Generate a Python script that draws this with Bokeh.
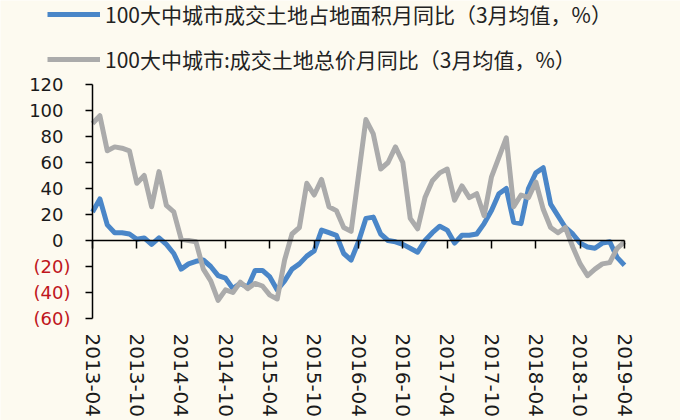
from bokeh.plotting import figure
from bokeh.models import Legend, LegendItem, LinearAxis, FixedTicker, Range1d
from bokeh.core.properties import value
from bokeh.embed import file_html
from bokeh.resources import INLINE

# Monthly data, 2013-04 .. 2019-04 (73 months)
area_yoy = [22, 32, 12, 6, 6, 5, 1, 2, -3, 2, -3, -10,
            -22, -18, -16, -15, -20, -27, -29, -37, -33, -36, -23, -23,
            -28, -38, -31, -22, -18, -12, -8, 8, 6, 4, -10, -15,
            -1, 17, 18, 5, 0, -1, -3, -6, -9, 0, 6, 11,
            8, -2, 4, 4, 5, 13, 23, 36, 40, 14, 13, 40,
            52, 56, 28, 19, 10, 5, -2, -5, -6, -2, -1, -13,
            -19]
price_yoy = [90, 96, 69, 72, 71, 69, 44, 50, 26, 53, 27, 22,
             1, 0, -1, -22, -31, -46, -38, -40, -32, -37, -33, -35,
             -42, -45, -15, 5, 10, 44, 35, 47, 26, 23, 10, 7,
             50, 93, 82, 55, 60, 72, 60, 17, 9, 33, 46, 52,
             55, 31, 42, 33, 36, 19, 49, 64, 79, 26, 35, 33,
             45, 24, 10, 6, 10, -5, -18, -27, -22, -18, -17, -6,
             -1]
month_idx = list(range(len(area_yoy)))
x_tick_pos = [0, 6, 12, 18, 24, 30, 36, 42, 48, 54, 60, 66, 72]
x_tick_labels = ["2013-04", "2013-10", "2014-04", "2014-10", "2015-04", "2015-10",
                 "2016-04", "2016-10", "2017-04", "2017-10", "2018-04", "2018-10", "2019-04"]
y_ticks = [-60, -40, -20, 0, 20, 40, 60, 80, 100, 120]
label_area = "100大中城市成交土地占地面积月同比（3月均值，%）"
label_price = "100大中城市:成交土地总价月同比（3月均值，%）"

BG = "#FDFAF0"
BLUE = "#4A86C8"
GRAY = "#ABABAB"
RED = "#C0161C"
TXT = "#1A1A1A"
TICK_FONT = "DejaVu Sans"

# layout targets (pixels): data area x 92..624, y 84..318; the frame covers the
# whole canvas so that no text gets clipped
W, H = 680, 420
AX_L, AX_R, AX_T, AX_B = 92, 624, 84, 318
x0, x1 = month_idx[0], month_idx[-1]
y0, y1 = y_ticks[0], y_ticks[-1]
px_per_month = (AX_R - AX_L) / (x1 - x0)
px_per_unit = (AX_B - AX_T) / (y1 - y0)
x_start = x0 - AX_L / px_per_month
x_end = x1 + (W - AX_R) / px_per_month
y_end = y1 + AX_T / px_per_unit
y_start = y0 - (H - AX_B) / px_per_unit

p = figure(width=W, height=H, output_backend="svg", toolbar_location=None,
           x_range=Range1d(x_start, x_end), y_range=Range1d(y_start, y_end),
           x_axis_location=None, y_axis_location=None,
           min_border_left=0, min_border_right=0, min_border_top=0, min_border_bottom=0,
           background_fill_color=BG, border_fill_color=BG, outline_line_color=None)
p.grid.visible = False

def blank(ticks):
    return {t: "" for t in ticks}

# category labels under the data area
xa = LinearAxis(fixed_location=y0, bounds=(x0, x1), ticker=FixedTicker(ticks=x_tick_pos),
                major_label_overrides={t: l for t, l in zip(x_tick_pos, x_tick_labels)},
                axis_line_color=None, major_tick_line_color=None, minor_tick_line_color=None,
                major_tick_out=0, major_tick_in=0, major_label_standoff=15,
                major_label_orientation="vertical",
                major_label_text_font=TICK_FONT, major_label_text_font_size="20px",
                major_label_text_color=TXT)
p.add_layout(xa, "below")

# y axis line + ticks
ya_line = LinearAxis(fixed_location=x0, bounds=(y0, y1), ticker=FixedTicker(ticks=y_ticks),
                     major_label_overrides=blank(y_ticks), major_label_text_color=None,
                     axis_line_color="black", axis_line_width=1.5,
                     major_tick_line_color="black", major_tick_line_width=1.5,
                     major_tick_out=7, major_tick_in=0, minor_tick_line_color=None)
p.add_layout(ya_line, "left")

# red negative labels
ya_neg = LinearAxis(fixed_location=x0, bounds=(y0, y1), ticker=FixedTicker(ticks=y_ticks),
                    major_label_overrides={t: (f"({-t})" if t < 0 else "") for t in y_ticks},
                    axis_line_color=None, major_tick_line_color=None, minor_tick_line_color=None,
                    major_tick_out=7, major_tick_in=0, major_label_standoff=15,
                    major_label_text_font=TICK_FONT, major_label_text_font_size="18px",
                    major_label_text_color=RED)
p.add_layout(ya_neg, "left")

# black non-negative labels, right edge 29 px left of the axis line
pos_ticks = [t for t in y_ticks if t >= 0]
p.text(x=[x0 - 29 / px_per_month] * len(pos_ticks), y=pos_ticks,
       text=[str(t) for t in pos_ticks],
       text_align="right", text_baseline="middle",
       text_font=value(TICK_FONT), text_font_size=value("18px"), text_color=TXT)

# zero line with downward ticks
xa0 = LinearAxis(fixed_location=0, bounds=(x0, x1), ticker=FixedTicker(ticks=x_tick_pos),
                 major_label_overrides=blank(x_tick_pos), major_label_text_color=None,
                 axis_line_color="black", axis_line_width=1.5,
                 major_tick_line_color="black", major_tick_line_width=1.5,
                 major_tick_out=8, major_tick_in=0, minor_tick_line_color=None)
p.add_layout(xa0, "below")

r_area = p.line(month_idx, area_yoy, line_color=BLUE, line_width=5, line_join="round")
r_price = p.line(month_idx, price_yoy, line_color=GRAY, line_width=5, line_join="round")

legend = Legend(items=[LegendItem(label=label_area, renderers=[r_area]),
                       LegendItem(label=label_price, renderers=[r_price])],
                location=(47, H - 74), orientation="vertical",
                glyph_width=53, glyph_height=24, label_height=24, label_width=10,
                spacing=15, padding=0, margin=0, label_standoff=5,
                background_fill_alpha=0, border_line_color=None,
                label_text_font="Noto Sans CJK SC", label_text_font_size="21px",
                label_text_color="#222222")
p.add_layout(legend)

open("out.html", "w").write(file_html(p, INLINE))
